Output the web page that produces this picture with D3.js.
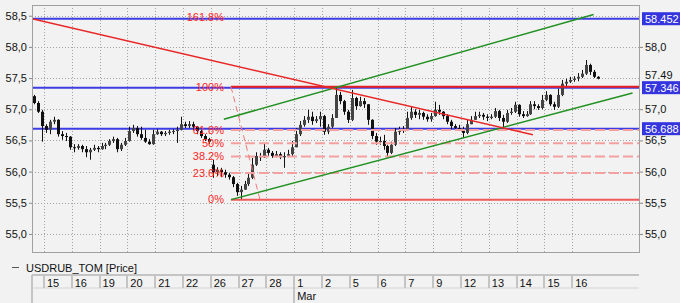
<!DOCTYPE html>
<html>
<head>
<meta charset="utf-8">
<script src="https://cdn.jsdelivr.net/npm/d3@7"></script>
<style>
body { margin: 0; background: #f2f2f2; }
svg { display: block; font-family: "Liberation Sans", Arial, sans-serif; font-size: 11px; }
</style>
</head>
<body>
<svg id="chart" width="680" height="303"></svg>
<script>
// trading days on the time axis (14 Feb is only partly visible)
var dayLabels = ["14","15","16","19","20","21","22","26","27","28","1","2","5","6","7","9","12","13","14","15","16"];
var monthLabels = ["Mar"];
var monthStartDay = [10];
var barsPerDay = 7;
var firstSlot = 4;   // first shown bar of 14 Feb sits in slot 4 of that day

// candles, per day
var opens = [
  57.21, 57.10, 56.96,
  56.73, 56.67, 56.80, 56.83, 56.60, 56.57, 56.56,
  56.39, 56.38, 56.41, 56.36, 56.31, 56.35, 56.38,
  56.36, 56.41, 56.43, 56.49, 56.52, 56.36, 56.43,
  56.49, 56.65, 56.70, 56.60, 56.54, 56.48, 56.44,
  56.60, 56.64, 56.60, 56.62, 56.64, 56.65, 56.67,
  56.76, 56.73, 56.76, 56.72, 56.65, 56.57, 56.52,
  56.11, 55.99, 56.03, 55.99, 55.95, 55.91, 55.80,
  55.67, 55.71, 55.80, 55.90, 56.11, 56.25, 56.23,
  56.35, 56.30, 56.25, 56.28, 56.23, 56.25, 56.28,
  56.39, 56.60, 56.75, 56.83, 56.88, 56.81, 56.84,
  56.89, 56.64, 56.72, 56.86, 57.23, 57.13, 56.96,
  56.83, 57.18, 57.05, 57.13, 57.08, 56.83, 56.57,
  56.48, 56.49, 56.41, 56.30, 56.43, 56.64, 56.65,
  56.68, 56.86, 56.96, 56.91, 56.94, 56.88, 56.84,
  56.89, 56.99, 56.96, 56.89, 56.80, 56.73, 56.70,
  56.68, 56.62, 56.76, 56.83, 56.89, 56.91, 56.88,
  56.86, 56.88, 56.97, 56.86, 56.80, 56.94, 56.96,
  57.07, 56.92, 56.89, 56.92, 57.08, 57.05, 57.02,
  57.15, 57.23, 57.08, 57.04, 57.23, 57.41, 57.44,
  57.47, 57.49, 57.52, 57.57, 57.71, 57.60, 57.52
];
var highs = [
  57.23, 57.13, 56.99,
  56.76, 56.83, 56.88, 56.84, 56.65, 56.62, 56.57,
  56.44, 56.44, 56.43, 56.41, 56.38, 56.43, 56.41,
  56.46, 56.46, 56.52, 56.56, 56.54, 56.46, 56.54,
  56.72, 56.75, 56.73, 56.72, 56.67, 56.52, 56.67,
  56.68, 56.65, 56.65, 56.67, 56.68, 56.72, 56.88,
  56.80, 56.81, 56.80, 56.73, 56.67, 56.60, 56.54,
  56.19, 56.07, 56.06, 56.03, 55.98, 55.93, 55.82,
  55.77, 55.85, 55.96, 56.22, 56.31, 56.30, 56.46,
  56.38, 56.33, 56.33, 56.31, 56.31, 56.35, 56.49,
  56.70, 56.81, 56.89, 56.99, 56.96, 56.89, 56.96,
  56.91, 56.76, 56.92, 57.34, 57.28, 57.15, 56.99,
  57.31, 57.20, 57.20, 57.18, 57.08, 56.84, 56.62,
  56.56, 56.59, 56.43, 56.48, 56.70, 56.72, 56.73,
  56.96, 57.04, 57.00, 56.99, 56.96, 56.92, 56.94,
  57.12, 57.07, 56.97, 56.92, 56.83, 56.76, 56.75,
  56.72, 56.83, 56.89, 56.96, 56.96, 56.94, 56.92,
  56.92, 57.02, 56.99, 56.91, 56.99, 57.02, 57.12,
  57.08, 56.97, 56.97, 57.13, 57.13, 57.08, 57.23,
  57.29, 57.24, 57.12, 57.33, 57.47, 57.49, 57.52,
  57.53, 57.58, 57.63, 57.79, 57.73, 57.63, 57.53
];
var lows = [
  57.08, 56.94, 56.48,
  56.62, 56.60, 56.76, 56.56, 56.51, 56.49, 56.35,
  56.31, 56.35, 56.31, 56.23, 56.19, 56.33, 56.31,
  56.35, 56.36, 56.41, 56.46, 56.31, 56.33, 56.41,
  56.48, 56.62, 56.56, 56.51, 56.46, 56.43, 56.43,
  56.59, 56.57, 56.57, 56.59, 56.60, 56.46, 56.66,
  56.70, 56.70, 56.67, 56.60, 56.54, 56.49, 56.44,
  55.90, 55.93, 55.91, 55.90, 55.87, 55.75, 55.61,
  55.56, 55.71, 55.77, 55.88, 56.09, 56.17, 56.22,
  56.25, 56.22, 56.23, 56.20, 56.06, 56.23, 56.25,
  56.39, 56.57, 56.72, 56.78, 56.75, 56.78, 56.72,
  56.59, 56.60, 56.70, 56.86, 57.08, 56.91, 56.78,
  56.81, 56.99, 57.04, 57.02, 56.75, 56.52, 56.43,
  56.43, 56.35, 56.23, 56.28, 56.41, 56.59, 56.62,
  56.65, 56.83, 56.86, 56.84, 56.83, 56.80, 56.80,
  56.88, 56.91, 56.84, 56.76, 56.68, 56.67, 56.65,
  56.54, 56.60, 56.76, 56.83, 56.86, 56.83, 56.81,
  56.84, 56.86, 56.81, 56.70, 56.78, 56.91, 56.94,
  56.88, 56.86, 56.88, 56.91, 57.00, 56.99, 57.00,
  57.13, 57.05, 56.99, 57.02, 57.21, 57.37, 57.42,
  57.44, 57.45, 57.50, 57.55, 57.55, 57.50, 57.48
];
var closes = [
  57.10, 56.96, 56.73,
  56.67, 56.80, 56.83, 56.60, 56.57, 56.56, 56.39,
  56.38, 56.41, 56.36, 56.31, 56.35, 56.38, 56.36,
  56.41, 56.43, 56.49, 56.52, 56.36, 56.43, 56.49,
  56.65, 56.70, 56.60, 56.54, 56.48, 56.44, 56.60,
  56.64, 56.60, 56.62, 56.64, 56.65, 56.67, 56.76,
  56.73, 56.76, 56.72, 56.65, 56.57, 56.52, 56.48,
  55.99, 56.03, 55.99, 55.95, 55.91, 55.80, 55.67,
  55.71, 55.80, 55.90, 56.11, 56.25, 56.23, 56.35,
  56.30, 56.25, 56.28, 56.23, 56.25, 56.28, 56.39,
  56.60, 56.75, 56.83, 56.88, 56.81, 56.84, 56.89,
  56.64, 56.72, 56.86, 57.23, 57.13, 56.96, 56.83,
  57.18, 57.05, 57.13, 57.08, 56.83, 56.57, 56.48,
  56.49, 56.41, 56.30, 56.43, 56.64, 56.65, 56.68,
  56.86, 56.96, 56.91, 56.94, 56.88, 56.84, 56.89,
  56.99, 56.96, 56.89, 56.80, 56.73, 56.70, 56.68,
  56.62, 56.76, 56.83, 56.89, 56.91, 56.88, 56.86,
  56.88, 56.97, 56.86, 56.80, 56.94, 56.96, 57.07,
  56.92, 56.89, 56.92, 57.08, 57.05, 57.02, 57.15,
  57.23, 57.08, 57.04, 57.23, 57.41, 57.44, 57.47,
  57.49, 57.52, 57.57, 57.71, 57.60, 57.52, 57.49
];

// horizontal levels and last price
var levels = [58.452, 57.346, 56.688];
var lastPrice = 57.49;
var yTicks = [55.0, 55.5, 56.0, 56.5, 57.0, 57.5, 58.0, 58.5];

// fibonacci retracement (slots are bar positions on the time axis)
var fibLow = 55.55, fibHigh = 57.36;
var fibRatios = [0, 0.236, 0.382, 0.5, 0.618, 1, 1.618];
var fibLabels = ["0%", "23.6%", "38.2%", "50%", "61.8%", "100%", "161.8%"];
var fibStartSlot = 54.1, fibEndSlot = 61.4;

// trend lines [slot, price]
var redTrend = [[4, 58.45], [130.1, 56.59]];
var greenUpper = [[52.3, 56.84], [145.4, 58.52]];
var greenLower = [[54.1, 55.55], [155.2, 57.26]];

var svg = d3.select("#chart");

var x = d3.scaleLinear().domain([4, 157.07]).range([32, 640]);
var y = d3.scaleLinear().domain([54.694, 58.672]).range([253, 5]);

var comma = function(d){ return d3.format(".1f")(d).replace(".", ","); };

svg.append("defs").append("clipPath").attr("id", "plotclip")
  .append("rect").attr("x", 32).attr("y", 5).attr("width", 608).attr("height", 248);

// grid
var grid = svg.append("g").attr("stroke", "#a4a4a4").attr("stroke-dasharray", "1,2")
  .attr("shape-rendering", "crispEdges");
grid.selectAll(".hg").data(yTicks).enter().append("line")
  .attr("x1", 32).attr("x2", 640)
  .attr("y1", function(d){ return Math.round(y(d)) + 0.5; })
  .attr("y2", function(d){ return Math.round(y(d)) + 0.5; });
var dayIdx = d3.range(1, dayLabels.length);
grid.selectAll(".vg").data(dayIdx).enter().append("line")
  .attr("y1", 5).attr("y2", 253)
  .attr("x1", function(d){ return Math.round(x(d * barsPerDay)) + 0.5; })
  .attr("x2", function(d){ return Math.round(x(d * barsPerDay)) + 0.5; });

var plot = svg.append("g").attr("clip-path", "url(#plotclip)");

// blue levels
plot.selectAll(".lvl").data(levels).enter().append("line")
  .attr("x1", 32).attr("x2", 640)
  .attr("y1", function(d){ return y(d); }).attr("y2", function(d){ return y(d); })
  .attr("stroke", "#3d3de6").attr("stroke-width", 2);

// candles
var bars = d3.range(closes.length);
var cx = function(i){ return x(i + firstSlot + 0.5); };
plot.selectAll(".wick").data(bars).enter().append("line")
  .attr("x1", function(i){ return Math.round(cx(i)) + 0.5; })
  .attr("x2", function(i){ return Math.round(cx(i)) + 0.5; })
  .attr("y1", function(i){ return y(highs[i]); })
  .attr("y2", function(i){ return y(lows[i]); })
  .attr("stroke", "#111").attr("stroke-width", 1);
plot.selectAll(".body").data(bars).enter().append("rect")
  .attr("x", function(i){ return Math.round(cx(i)) - 1; })
  .attr("width", 3)
  .attr("y", function(i){ return y(Math.max(opens[i], closes[i])); })
  .attr("height", function(i){ return Math.max(1, Math.abs(y(opens[i]) - y(closes[i]))); })
  .attr("fill", function(i){ return closes[i] < opens[i] ? "#111" : "#444"; });

// fibonacci
var fibY = function(r){ return y(fibLow + r * (fibHigh - fibLow)); };
var fibDrawn = fibRatios.filter(function(r){ return r <= 1; });
plot.selectAll(".fib").data(fibDrawn).enter().append("line")
  .attr("x1", x(fibStartSlot)).attr("x2", 640)
  .attr("y1", fibY).attr("y2", fibY)
  .attr("stroke", function(r){ return r == 1 ? "#e62020" : (r == 0 ? "#f05a5a" : "#f5a0a0"); })
  .attr("stroke-width", 2)
  .attr("stroke-dasharray", function(r){ return (r == 0 || r == 1) ? null : "10,4"; });
plot.append("line")
  .attr("x1", x(fibStartSlot)).attr("y1", y(fibHigh))
  .attr("x2", x(fibEndSlot)).attr("y2", y(fibLow))
  .attr("stroke", "#f07878").attr("stroke-width", 1).attr("stroke-dasharray", "6,4");
svg.selectAll(".fibl").data(fibRatios).enter().append("text")
  .attr("x", x(fibStartSlot) - 7).attr("y", fibY).attr("dy", "0.35em")
  .attr("text-anchor", "end").attr("fill", "#ff2626")
  .text(function(r, i){ return fibLabels[i]; });

// trend lines
var line = d3.line().x(function(d){ return x(d[0]); }).y(function(d){ return y(d[1]); });
plot.append("path").attr("d", line(greenUpper)).attr("stroke", "#229122").attr("stroke-width", 1.5).attr("fill", "none");
plot.append("path").attr("d", line(greenLower)).attr("stroke", "#229122").attr("stroke-width", 1.5).attr("fill", "none");
plot.append("path").attr("d", line(redTrend)).attr("stroke", "#e82626").attr("stroke-width", 1.5).attr("fill", "none");

// frame
svg.append("rect").attr("x", 32.5).attr("y", 5.5).attr("width", 607).attr("height", 247)
  .attr("fill", "none").attr("stroke", "#a0a0a0");

// axes
var leftAxis = svg.append("g").attr("transform", "translate(32,0)")
  .call(d3.axisLeft(y).tickValues(yTicks).tickFormat(comma).tickSize(3).tickPadding(2));
var marks = levels.concat([lastPrice]);
var rightTicks = yTicks.filter(function(t){
  return marks.every(function(m){ return Math.abs(y(m) - y(t)) > 9; });
});
var rightAxis = svg.append("g").attr("transform", "translate(640,0)")
  .call(d3.axisRight(y).tickValues(rightTicks).tickFormat(comma).tickSize(3).tickPadding(2));
[leftAxis, rightAxis].forEach(function(a){
  a.select(".domain").remove();
  a.selectAll("line").attr("stroke", "#888");
  a.selectAll("text").attr("fill", "#111").style("font-size", "11px")
    .style("font-family", '"Liberation Sans", Arial, sans-serif');
});

// last price and level markers on the right
svg.append("text").attr("x", 645).attr("y", y(lastPrice)).attr("dy", "0.05em")
  .attr("fill", "#111").text(d3.format(".2f")(lastPrice));
var mk = svg.selectAll(".mk").data(levels).enter().append("g");
mk.append("rect").attr("x", 642).attr("width", 40).attr("height", 13)
  .attr("y", function(d){ return y(d) - 6.5; }).attr("fill", "#3535e0");
mk.append("text").attr("x", 645).attr("y", function(d){ return y(d); }).attr("dy", "0.35em")
  .attr("fill", "#fff").text(function(d){ return d3.format(".3f")(d); });

// legend
svg.append("line").attr("x1", 12).attr("x2", 19).attr("y1", 267.5).attr("y2", 267.5).attr("stroke", "#555");
svg.append("text").attr("x", 26).attr("y", 271.5).attr("fill", "#111").text("USDRUB_TOM [Price]");

// time axis panel
var ta = svg.append("g");
ta.append("line").attr("x1", 32).attr("x2", 639).attr("y1", 275).attr("y2", 275).attr("stroke", "#c4c4c4").attr("stroke-width", 2);
ta.append("line").attr("x1", 32).attr("x2", 639).attr("y1", 288).attr("y2", 288).attr("stroke", "#d4d4d4").attr("stroke-width", 1);
ta.append("line").attr("x1", 32).attr("x2", 32).attr("y1", 275).attr("y2", 303).attr("stroke", "#c4c4c4").attr("stroke-width", 2);
ta.selectAll(".sep").data(dayIdx).enter().append("line")
  .attr("x1", function(d){ return Math.round(x(d * barsPerDay)); })
  .attr("x2", function(d){ return Math.round(x(d * barsPerDay)); })
  .attr("y1", 275)
  .attr("y2", function(d){ return monthStartDay.indexOf(d) >= 0 ? 303 : 288; })
  .attr("stroke", "#c4c4c4").attr("stroke-width", 2);
ta.selectAll(".dl").data(dayIdx).enter().append("text")
  .attr("x", function(d){ return x(d * barsPerDay) + 3; })
  .attr("y", 286.5).attr("fill", "#111")
  .text(function(d){ return dayLabels[d]; });
ta.selectAll(".ml").data(monthLabels).enter().append("text")
  .attr("x", function(d, i){ return x(monthStartDay[i] * barsPerDay) + 3; })
  .attr("y", 300).attr("fill", "#111")
  .text(function(d){ return d; });
</script>
</body>
</html>
